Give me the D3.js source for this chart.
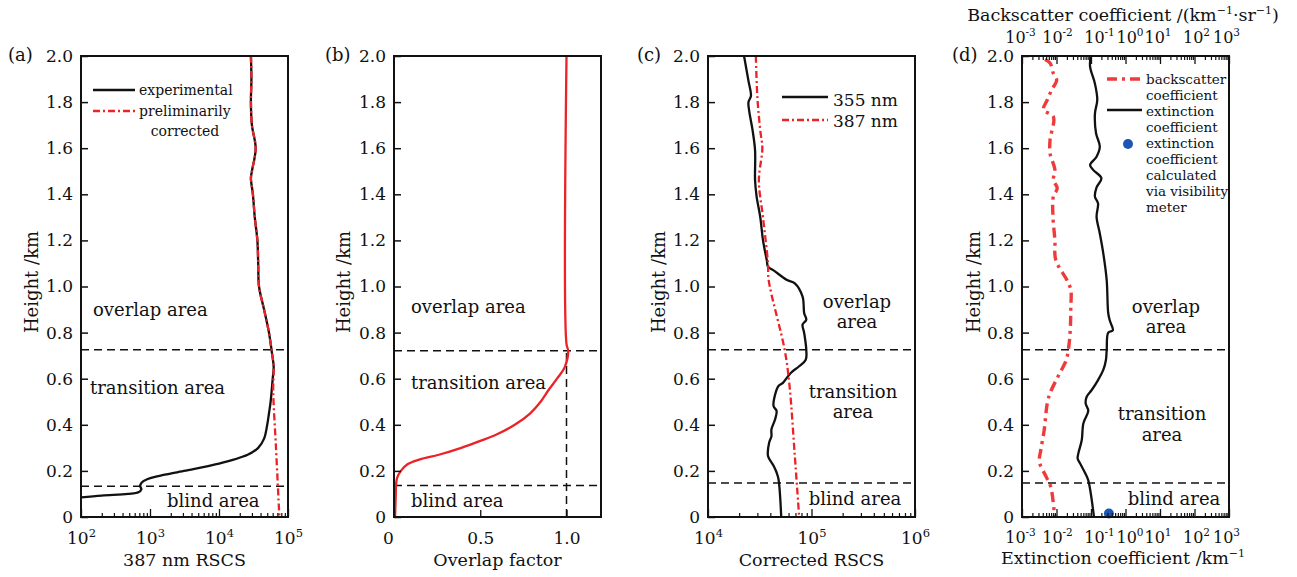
<!DOCTYPE html>
<html>
<head>
  <meta charset="UTF-8">
  <style>
    body { margin: 0; padding: 0; background-color: #fff; }
    svg { display: block; }
    text { font-family: "DejaVu Serif", serif; fill: #111; }
  </style>
</head>
<body>
<svg></svg>
<script src="https://d3js.org/d3.v7.min.js"></script>
<script>
  let width = 1297, height = 577;
  let svg = d3.select("svg").attr("width", width).attr("height", height);

  // ---- data (height in km, value) ----
  const heightTicks = [0, 0.2, 0.4, 0.6, 0.8, 1.0, 1.2, 1.4, 1.6, 1.8, 2.0];

  // (a) 387 nm RSCS
  const experimental = [
    [2.0, 2.9e4], [1.9, 2.95e4], [1.8, 2.9e4], [1.7, 3.0e4], [1.6, 3.4e4], [1.5, 3.0e4],
    [1.47, 2.9e4], [1.4, 3.1e4], [1.3, 3.3e4], [1.2, 3.6e4], [1.1, 3.7e4], [1.0, 3.8e4],
    [0.9, 4.5e4], [0.8, 5.3e4], [0.72, 5.8e4], [0.65, 6.2e4], [0.6, 6.0e4], [0.5, 5.6e4],
    [0.45, 5.3e4], [0.4, 5.0e4], [0.34, 4.5e4], [0.3, 3.7e4], [0.27, 2.6e4], [0.23, 9.5e3],
    [0.2, 3.1e3], [0.176, 1.26e3], [0.164, 910], [0.15, 760], [0.135, 720], [0.12, 750],
    [0.107, 680], [0.1, 480], [0.093, 200], [0.085, 100]
  ];
  const preliminary = [
    [2.0, 2.9e4], [1.9, 2.95e4], [1.8, 2.9e4], [1.7, 3.0e4], [1.6, 3.4e4], [1.5, 3.0e4],
    [1.47, 2.9e4], [1.4, 3.1e4], [1.3, 3.3e4], [1.2, 3.6e4], [1.1, 3.7e4], [1.0, 3.8e4],
    [0.9, 4.5e4], [0.8, 5.3e4], [0.72, 5.8e4], [0.65, 6.2e4], [0.55, 6.1e4], [0.3, 6.7e4],
    [0, 7.5e4]
  ];

  // (b) overlap factor
  const overlapFactor = [
    [2.0, 1.0], [0.75, 1.0], [0.72, 1.01], [0.65, 0.99], [0.6, 0.945], [0.55, 0.895],
    [0.5, 0.85], [0.45, 0.79], [0.4, 0.70], [0.36, 0.60], [0.33, 0.50], [0.3, 0.39],
    [0.27, 0.26], [0.25, 0.15], [0.23, 0.08], [0.2, 0.04], [0.17, 0.018], [0.14, 0.012],
    [0.09, 0.01], [0, 0.006]
  ];

  // (c) corrected RSCS
  const rscs355 = [
    [2.0, 2.23e4], [1.892, 2.46e4], [1.827, 2.6e4], [1.8, 2.46e4], [1.762, 2.5e4],
    [1.676, 2.7e4], [1.59, 2.85e4], [1.46, 2.85e4], [1.39, 2.95e4], [1.3, 3.2e4],
    [1.2, 3.4e4], [1.114, 3.7e4], [1.086, 3.8e4], [1.07, 4.3e4], [1.028, 5.8e4],
    [1.014, 6.9e4], [0.956, 8.2e4], [0.884, 8.5e4], [0.856, 8.9e4], [0.835, 8.2e4],
    [0.798, 8.5e4], [0.726, 8.9e4], [0.682, 8.8e4], [0.654, 7.6e4], [0.625, 6.3e4],
    [0.582, 5.3e4], [0.568, 4.8e4], [0.531, 4.45e4], [0.481, 4.3e4], [0.46, 4.6e4],
    [0.424, 4.45e4], [0.38, 4.1e4], [0.35, 4.1e4], [0.323, 3.9e4], [0.265, 3.8e4],
    [0.222, 4.3e4], [0.193, 4.6e4], [0.164, 4.8e4], [0, 5.1e4]
  ];
  const rscs387 = [
    [2.0, 2.9e4], [1.82, 3.0e4], [1.676, 3.2e4], [1.6, 3.35e4], [1.46, 3.1e4],
    [1.3, 3.4e4], [1.1, 3.8e4], [1.03, 3.85e4], [0.726, 5.5e4], [0.58, 6.1e4],
    [0.265, 6.9e4], [0, 7.6e4]
  ];

  // (d) coefficients
  const backscatter = [
    [1.985, 0.0046], [1.97, 0.0065], [1.925, 0.0081], [1.896, 0.0101], [1.852, 0.0072],
    [1.81, 0.0054], [1.766, 0.0042], [1.737, 0.0081], [1.636, 0.0065], [1.578, 0.0065],
    [1.505, 0.009], [1.462, 0.0081], [1.426, 0.0105], [1.39, 0.0081], [1.303, 0.0079],
    [1.2, 0.009], [1.115, 0.0095], [1.028, 0.02], [0.985, 0.026], [0.91, 0.026],
    [0.81, 0.025], [0.724, 0.022], [0.68, 0.019], [0.609, 0.011], [0.537, 0.0065],
    [0.493, 0.0054], [0.377, 0.0044], [0.29, 0.0035], [0.24, 0.0032], [0.175, 0.005],
    [0.131, 0.0068], [0.016, 0.0087], [0, 0.009]
  ];
  const extinction = [
    [2.0, 0.098], [1.954, 0.094], [1.88, 0.13], [1.81, 0.152], [1.75, 0.13], [1.665, 0.14],
    [1.607, 0.18], [1.563, 0.145], [1.527, 0.094], [1.505, 0.117], [1.47, 0.2], [1.43, 0.145],
    [1.39, 0.13], [1.36, 0.16], [1.303, 0.145], [1.23, 0.18], [1.144, 0.227], [1.028, 0.285],
    [0.884, 0.316], [0.85, 0.355], [0.81, 0.43], [0.8, 0.316], [0.724, 0.285], [0.68, 0.27],
    [0.638, 0.227], [0.594, 0.16], [0.551, 0.105], [0.522, 0.075], [0.493, 0.07],
    [0.464, 0.083], [0.45, 0.08], [0.406, 0.06], [0.334, 0.054], [0.276, 0.043],
    [0.254, 0.041], [0.233, 0.048], [0.19, 0.068], [0.16, 0.083], [0, 0.122]
  ];
  const visibilityPoint = [[0.015, 0.33]];

  const panelLabels = ["(a)", "(b)", "(c)", "(d)"];
  const xTitles = ["387 nm RSCS", "Overlap factor", "Corrected RSCS"];
  const upperBound = [0.726, 0.721, 0.726, 0.726];
  const lowerBound = [0.133, 0.137, 0.147, 0.147];

  // ---- layout ----
  const plotLeft = [81, 394, 708, 1022];
  const plotW = 207, plotTop = 56, plotBottom = 517;
  const red = "#ec2227", blue = "#1c56b4";
  const tickFont = 17;
  // small horizontal nudges of the crowded (d) decade labels, by exponent -3..3
  const dLabelShift = [-2, 0.5, 8, 4, -2.5, 1.5, -3];

  let y = d3.scaleLinear().domain([0, 2]).range([plotBottom, plotTop]);

  function minorTicks(lo, hi) {
    let out = [];
    for (let k = lo; k < hi; k++) for (let m = 2; m <= 9; m++) out.push(m * Math.pow(10, k));
    return out;
  }
  function powLabel(sel, supSize, shift) {
    sel.each(function (d) {
      let t = d3.select(this);
      let e = Math.round(Math.log10(d));
      t.text(null);
      if (shift) t.attr("dx", shift[e + 3]);
      t.append("tspan").text("10");
      t.append("tspan").attr("dy", -7).attr("font-size", supSize).text(String(e));
    });
  }

  function yAxis(g, i) {
    let ax = g.append("g")
        .attr("transform", `translate(${plotLeft[i]},0)`)
        .call(d3.axisLeft(y).tickValues(heightTicks).tickSizeInner(-7).tickSizeOuter(0)
          .tickPadding(8).tickFormat(d => d === 0 ? "0" : d.toFixed(1)));
    ax.select(".domain").remove();
    ax.selectAll(".tick line").attr("stroke", "#111").attr("stroke-width", 1.5);
    ax.selectAll("text").attr("font-size", tickFont).attr("font-family", "DejaVu Serif").attr("fill", "#111");
  }

  function logAxis(g, x, lo, hi, atTop, font, supSize, shift) {
    let majors = d3.range(lo, hi + 1).map(k => Math.pow(10, k));
    let pos = atTop ? plotTop : plotBottom;
    let mk = atTop ? d3.axisTop : d3.axisBottom;
    let ax = g.append("g").attr("transform", `translate(0,${pos})`)
        .call(mk(x).tickValues(majors).tickSizeInner(-8).tickSizeOuter(0).tickPadding(atTop ? 13 : 15));
    ax.select(".domain").remove();
    ax.selectAll(".tick line").attr("stroke", "#111").attr("stroke-width", 1.3);
    ax.selectAll("text").attr("font-size", font).attr("font-family", "DejaVu Serif").attr("fill", "#111")
      .call(powLabel, supSize, shift);
    let mn = g.append("g").attr("transform", `translate(0,${pos})`)
        .call(mk(x).tickValues(minorTicks(lo, hi)).tickSizeInner(-4).tickSizeOuter(0).tickFormat(""));
    mn.select(".domain").remove();
    mn.selectAll(".tick line").attr("stroke", "#111").attr("stroke-width", 1.2);
  }

  function frame(g, i) {
    g.append("rect").attr("x", plotLeft[i]).attr("y", plotTop)
      .attr("width", plotW).attr("height", plotBottom - plotTop)
      .attr("fill", "none").attr("stroke", "#111").attr("stroke-width", 2);
  }

  function bounds(g, i) {
    [upperBound[i], lowerBound[i]].forEach(h => {
      g.append("line").attr("x1", plotLeft[i]).attr("x2", plotLeft[i] + plotW)
        .attr("y1", y(h)).attr("y2", y(h))
        .attr("stroke", "#111").attr("stroke-width", 1.5).attr("stroke-dasharray", "8,5");
    });
  }

  function labels(g, i, xTitle) {
    g.append("text").attr("x", [8, 325, 637, 952][i]).attr("y", 61).attr("font-size", 18).text(panelLabels[i]);
    let yb = [38, 350, 665, 980][i];
    g.append("text").attr("transform", `translate(${yb},282) rotate(-90)`)
      .attr("text-anchor", "middle").attr("font-size", 18).text("Height /km");
    if (xTitle) {
      g.append("text").attr("x", plotLeft[i] + plotW / 2).attr("y", 566)
        .attr("text-anchor", "middle").attr("font-size", 17.5).text(xTitle);
    }
  }

  function areaText(g, items, anchor) {
    items.forEach(it => {
      g.append("text").attr("x", it[0]).attr("y", it[1]).attr("font-size", 18)
        .attr("text-anchor", anchor).text(it[2]);
    });
  }

  function curve(g, x, data, color, w, dash, clipId) {
    let line = d3.line().x(d => x(d[1])).y(d => y(d[0])).curve(d3.curveCatmullRom.alpha(0.5));
    let p = g.append("path").datum(data).attr("d", line)
      .attr("fill", "none").attr("stroke", color).attr("stroke-width", w)
      .attr("clip-path", `url(#${clipId})`);
    if (dash) p.attr("stroke-dasharray", dash);
  }

  let defs = svg.append("defs");
  plotLeft.forEach((l, i) => {
    defs.append("clipPath").attr("id", "clip" + i)
      .append("rect").attr("x", l).attr("y", plotTop).attr("width", plotW).attr("height", plotBottom - plotTop);
  });

  // ---- panel (a) ----
  {
    let g = svg.append("g");
    let x = d3.scaleLog().domain([1e2, 1e5]).range([plotLeft[0], plotLeft[0] + plotW]);
    bounds(g, 0);
    curve(g, x, experimental, "#111", 2.3, null, "clip0");
    curve(g, x, preliminary, red, 2.3, "7,3,2,3", "clip0");
    logAxis(g, x, 2, 5, false, tickFont, 11.5);
    yAxis(g, 0);
    frame(g, 0);
    labels(g, 0, xTitles[0]);
    areaText(g, [[93, 316, "overlap area"], [90, 394, "transition area"], [167, 507, "blind area"]], "start");
    // legend
    g.append("line").attr("x1", 93).attr("x2", 135).attr("y1", 90).attr("y2", 90)
      .attr("stroke", "#111").attr("stroke-width", 2.3);
    g.append("line").attr("x1", 93).attr("x2", 135).attr("y1", 111).attr("y2", 111)
      .attr("stroke", red).attr("stroke-width", 2.3).attr("stroke-dasharray", "7,3,2,3");
    g.append("text").attr("x", 139).attr("y", 95).attr("font-size", 14).text("experimental");
    g.append("text").attr("x", 139).attr("y", 116).attr("font-size", 14).text("preliminarily");
    g.append("text").attr("x", 185).attr("y", 136).attr("font-size", 14).attr("text-anchor", "middle").text("corrected");
  }

  // ---- panel (b) ----
  {
    let g = svg.append("g");
    let x = d3.scaleLinear().domain([0, 1.2]).range([plotLeft[1], plotLeft[1] + plotW]);
    bounds(g, 1);
    g.append("line").attr("x1", x(1)).attr("x2", x(1)).attr("y1", y(0)).attr("y2", y(upperBound[1]))
      .attr("stroke", "#111").attr("stroke-width", 1.5).attr("stroke-dasharray", "8,5");
    curve(g, x, overlapFactor, red, 2.3, null, "clip1");
    let ax = g.append("g").attr("transform", `translate(0,${plotBottom})`)
        .call(d3.axisBottom(x).tickValues([0, 0.5, 1.0]).tickSizeInner(-7).tickSizeOuter(0).tickPadding(15)
          .tickFormat(d => d === 0 ? "0" : d.toFixed(1)));
    ax.select(".domain").remove();
    ax.selectAll(".tick line").attr("stroke", "#111").attr("stroke-width", 1.3);
    ax.selectAll("text").attr("font-size", tickFont).attr("font-family", "DejaVu Serif").attr("fill", "#111")
      .attr("dx", d => d === 0 ? -6 : 0);
    yAxis(g, 1);
    frame(g, 1);
    labels(g, 1, xTitles[1]);
    areaText(g, [[411, 313, "overlap area"], [411, 389, "transition area"], [411, 507, "blind area"]], "start");
  }

  // ---- panel (c) ----
  {
    let g = svg.append("g");
    let x = d3.scaleLog().domain([1e4, 1e6]).range([plotLeft[2], plotLeft[2] + plotW]);
    bounds(g, 2);
    curve(g, x, rscs355, "#111", 2.3, null, "clip2");
    curve(g, x, rscs387, red, 2.3, "7,3,2,3", "clip2");
    logAxis(g, x, 4, 6, false, tickFont, 11.5);
    yAxis(g, 2);
    frame(g, 2);
    labels(g, 2, xTitles[2]);
    areaText(g, [[857, 308, "overlap"], [857, 328, "area"], [853, 398, "transition"],
                 [853, 418, "area"], [855, 505, "blind area"]], "middle");
    g.append("line").attr("x1", 782).attr("x2", 828).attr("y1", 97).attr("y2", 97)
      .attr("stroke", "#111").attr("stroke-width", 2.3);
    g.append("line").attr("x1", 782).attr("x2", 828).attr("y1", 120).attr("y2", 120)
      .attr("stroke", red).attr("stroke-width", 2.3).attr("stroke-dasharray", "7,3,2,3");
    g.append("text").attr("x", 833).attr("y", 106).attr("font-size", 17).text("355 nm");
    g.append("text").attr("x", 833).attr("y", 127).attr("font-size", 17).text("387 nm");
  }

  // ---- panel (d) ----
  {
    let g = svg.append("g");
    let x = d3.scaleLog().domain([1e-3, 1e3]).range([plotLeft[3], plotLeft[3] + plotW]);
    bounds(g, 3);
    curve(g, x, backscatter, "#ef3b3b", 3.4, "10,5,3,5", "clip3");
    curve(g, x, extinction, "#111", 2.3, null, "clip3");
    g.selectAll("circle.vis").data(visibilityPoint).enter().append("circle")
      .attr("cx", d => x(d[1])).attr("cy", d => y(d[0])).attr("r", 5).attr("fill", blue);
    logAxis(g, x, -3, 3, false, 16, 10.5, dLabelShift);
    logAxis(g, x, -3, 3, true, 16, 10.5, dLabelShift);
    yAxis(g, 3);
    frame(g, 3);
    labels(g, 3, null);
    // titles with superscripts
    let tt = g.append("text").attr("x", 1123).attr("y", 21).attr("font-size", 17.5).attr("text-anchor", "middle");
    tt.append("tspan").text("Backscatter coefficient /(km");
    tt.append("tspan").attr("dy", -7).attr("font-size", 11).text("\u22121");
    tt.append("tspan").attr("dy", 7).text("\u00b7sr");
    tt.append("tspan").attr("dy", -7).attr("font-size", 11).text("\u22121");
    tt.append("tspan").attr("dy", 7).text(")");
    let bt = g.append("text").attr("x", 1123).attr("y", 564).attr("font-size", 17.5).attr("text-anchor", "middle");
    bt.append("tspan").text("Extinction coefficient /km");
    bt.append("tspan").attr("dy", -7).attr("font-size", 11).text("\u22121");
    areaText(g, [[1166, 313, "overlap"], [1166, 333, "area"], [1162, 420, "transition"],
                 [1162, 441, "area"], [1174, 505, "blind area"]], "middle");
    // legend
    g.append("line").attr("x1", 1107).attr("x2", 1141).attr("y1", 79).attr("y2", 79)
      .attr("stroke", "#ef3b3b").attr("stroke-width", 3.4).attr("stroke-dasharray", "10,5,3,5");
    g.append("line").attr("x1", 1107).attr("x2", 1142).attr("y1", 110).attr("y2", 110)
      .attr("stroke", "#111").attr("stroke-width", 2.3);
    g.append("circle").attr("cx", 1128).attr("cy", 144).attr("r", 5).attr("fill", blue);
    const legLines = [[84, "backscatter"], [100, "coefficient"], [116, "extinction"], [132, "coefficient"],
                      [148, "extinction"], [164, "coefficient"], [180, "calculated"],
                      [196, "via visibility"], [212, "meter"]];
    legLines.forEach(l => {
      g.append("text").attr("x", 1146).attr("y", l[0]).attr("font-size", 13.5).text(l[1]);
    });
  }
</script>
</body>
</html>
